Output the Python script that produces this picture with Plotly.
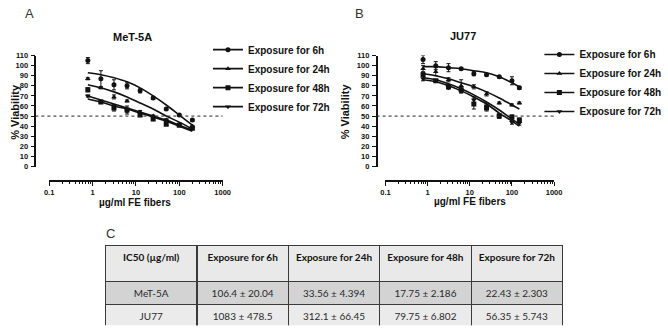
import plotly.graph_objects as go

W, H = 668, 334

# ---------------- data ----------------
series_names = ["Exposure for 6h", "Exposure for 24h", "Exposure for 48h", "Exposure for 72h"]
symbols = ["circle", "triangle-up", "square", "triangle-down"]

conc_met = [0.78, 1.56, 3.125, 6.25, 12.5, 25, 50, 100, 200]
met_6h = [105, 87, 81, 80, 75, 68, 57, 51, 46]
met_6h_err = [3, 8, 5, 3, 2, 1.5, 1, 1, 1]
met_24h = [87, 78, 69, 65, 54, 50, 46, 41, 40]
met_24h_err = [1, 1, 2, 1, 1.5, 1, 1, 1, 1]
met_48h = [76, 64, 58, 56, 51, 47, 42, 41, 38]
met_48h_err = [2, 1.5, 3, 4, 1.5, 1.5, 1, 1, 1]
met_72h = [70, 64, 60, 55, 52, 49, 46, 42, 39]
met_72h_err = [1, 1, 1, 1, 1, 1, 1, 1, 1]
met_fit_6h = [93, 91, 88, 84, 78, 70, 61, 51, 41]
met_fit_24h = [81, 78, 74, 69, 63, 57, 50, 44, 37]
met_fit_48h = [67, 64, 60, 57, 53, 49, 45, 40, 35]
met_fit_72h = [70, 66, 62, 58, 54, 50, 46, 41, 36]

conc_ju = [0.78, 1.56, 3.125, 6.25, 12.5, 25, 50, 100, 150]
ju_6h = [106, 100, 98, 97, 92, 91, 89, 85, 78]
ju_6h_err = [4, 4, 4, 1, 2, 1, 1, 4, 1.5]
ju_24h = [97, 94, 86, 80, 79, 72, 63, 61, 63]
ju_24h_err = [3, 4, 2, 6, 2, 2, 1, 1, 1]
ju_48h = [91, 85, 79, 76, 62, 58, 50, 49, 46]
ju_48h_err = [2, 1, 2, 3, 5, 3, 2, 2, 2]
ju_72h = [87, 85, 78, 75, 66, 60, 50, 44, 43]
ju_72h_err = [2, 1, 1, 2, 3, 3, 2, 2, 2]
ju_fit_6h = [99, 99, 98, 97, 95, 93, 89, 83, 79]
ju_fit_24h = [92, 90, 87, 83, 79, 74, 68, 61, 57]
ju_fit_48h = [88, 86, 82, 77, 71, 64, 56, 47, 42]
ju_fit_72h = [86, 84, 80, 75, 69, 62, 53, 45, 40]

threshold = 50

x_tickvals = [0.1, 1, 10, 100, 1000]
x_ticktext = ["0.1", "1", "10", "100", "1000"]
x_minor = [m * d for d in [0.1, 1, 10, 100] for m in range(2, 10)]

table_header = ["IC50 (µg/ml)", "Exposure for 6h", "Exposure for 24h",
                "Exposure for 48h", "Exposure for 72h"]
cell_lines = ["MeT-5A", "JU77"]
ic50_6h = ["106.4 ± 20.04", "1083 ± 478.5"]
ic50_24h = ["33.56 ± 4.394", "312.1 ± 66.45"]
ic50_48h = ["17.75 ± 2.186", "79.75 ± 6.802"]
ic50_72h = ["22.43 ± 2.303", "56.35 ± 5.743"]

# ---------------- helpers ----------------
def px(x):
    return x / W

def py(y):
    return 1 - y / H

def nobreak(s):
    return s.replace(" ", "\u00a0")

FONT = "Liberation Sans, Arial, sans-serif"
TFONT = "Lato, Open Sans, sans-serif"
BLACK = "#111111"

fig = go.Figure()

panels = [
    dict(xa="x", ya="y", legend="legend", conc=conc_met,
         vals=[met_6h, met_24h, met_48h, met_72h],
         errs=[met_6h_err, met_24h_err, met_48h_err, met_72h_err],
         fits=[met_fit_6h, met_fit_24h, met_fit_48h, met_fit_72h]),
    dict(xa="x2", ya="y2", legend="legend2", conc=conc_ju,
         vals=[ju_6h, ju_24h, ju_48h, ju_72h],
         errs=[ju_6h_err, ju_24h_err, ju_48h_err, ju_72h_err],
         fits=[ju_fit_6h, ju_fit_24h, ju_fit_48h, ju_fit_72h]),
]

for p in panels:
    for name, sym, v, e, f in zip(series_names, symbols, p["vals"], p["errs"], p["fits"]):
        fig.add_trace(go.Scatter(
            x=p["conc"], y=f, mode="lines", line=dict(color=BLACK, width=1.6, shape="spline"),
            xaxis=p["xa"], yaxis=p["ya"], showlegend=False, hoverinfo="skip"))
        fig.add_trace(go.Scatter(
            x=p["conc"], y=v, mode="markers",
            marker=dict(symbol=sym, size=5, color=BLACK),
            error_y=dict(type="data", array=e, color=BLACK, thickness=1, width=2),
            xaxis=p["xa"], yaxis=p["ya"], showlegend=False, name=name))
        # legend entry (line + marker, like the original)
        fig.add_trace(go.Scatter(
            x=[None], y=[None], mode="lines+markers", name=name,
            line=dict(color=BLACK, width=1.6),
            marker=dict(symbol=sym, size=5, color=BLACK),
            xaxis=p["xa"], yaxis=p["ya"], legend=p["legend"], showlegend=True))

# table
fig.add_trace(go.Table(
    domain=dict(x=[px(102.5), px(569.5)], y=[py(331), py(248)]),
    columnwidth=[1, 1, 1, 1, 1],
    header=dict(values=[nobreak(h) for h in table_header], height=36,
                fill=dict(color="#e9e9e9"),
                line=dict(color="#3a3a3a", width=1.2),
                align="center",
                font=dict(family=TFONT, size=10, color="#111111", weight="bold")),
    cells=dict(values=[cell_lines, ic50_6h, ic50_24h, ic50_48h, ic50_72h], height=23,
               fill=dict(color=[["#d3d3d3", "#ebebeb"]] * 5),
               line=dict(color="#3a3a3a", width=1.2),
               align="center",
               font=dict(family=TFONT, size=10, color="#2a2a2a")),
))

tickfont = dict(family=FONT, size=7.5, color=BLACK, weight="bold")

def xaxis_cfg(x0, x1, ypos):
    return dict(type="log", domain=[px(x0), px(x1)], range=[-1, 3], anchor="free", position=py(ypos),
                tickmode="array", tickvals=x_tickvals, ticktext=x_ticktext,
                ticks="outside", ticklen=4, tickwidth=1.3, tickcolor=BLACK,
                minor=dict(tickmode="array", tickvals=x_minor, ticks="outside", ticklen=2,
                           tickwidth=1, tickcolor=BLACK),
                showline=True, linecolor=BLACK, linewidth=1.6, showgrid=False, zeroline=False,
                tickfont=tickfont, ticklabelstandoff=0)

def yaxis_cfg(xpos):
    return dict(domain=[py(167), py(53)], range=[0, 110], anchor="free", position=px(xpos),
                dtick=10, tick0=0,
                ticks="outside", ticklen=4, tickwidth=1.3, tickcolor=BLACK,
                showline=True, linecolor=BLACK, linewidth=1.6, showgrid=False, zeroline=False,
                tickfont=tickfont, ticklabelstandoff=1)

legend_font = dict(family=FONT, size=10, color=BLACK, weight="bold")

fig.update_layout(
    width=W, height=H, autosize=False,
    margin=dict(l=0, r=0, t=0, b=0),
    paper_bgcolor="white", plot_bgcolor="white",
    font=dict(family=FONT, color=BLACK),
    xaxis=xaxis_cfg(45, 222, 182),
    yaxis=yaxis_cfg(31),
    xaxis2=xaxis_cfg(388, 560, 182),
    yaxis2=yaxis_cfg(379),
    legend=dict(x=px(207), y=py(32), xanchor="left", yanchor="top", font=legend_font,
                bgcolor="rgba(0,0,0,0)", borderwidth=0, tracegroupgap=0),
    legend2=dict(x=px(545), y=py(37), xanchor="left", yanchor="top", font=legend_font,
                 bgcolor="rgba(0,0,0,0)", borderwidth=0, tracegroupgap=0),
    showlegend=True,
)

# 50% dotted reference lines
fig.add_shape(type="line", xref="paper", yref="y", x0=px(31), x1=px(222), y0=threshold, y1=threshold,
              line=dict(color="#222222", width=1, dash="dot"))
fig.add_shape(type="line", xref="paper", yref="y2", x0=px(379), x1=px(560), y0=threshold, y1=threshold,
              line=dict(color="#222222", width=1, dash="dot"))

def ann(text, x, y, size, bold=True, color=BLACK, angle=0, family=FONT):
    fig.add_annotation(text=text, x=px(x), y=py(y), xref="paper", yref="paper",
                       xanchor="center", yanchor="middle", showarrow=False, textangle=angle,
                       font=dict(family=family, size=size, color=color,
                                 weight="bold" if bold else "normal"))

# panel letters
ann("A", 25, 10, 13, bold=False, color="#333333")
ann("B", 362, 10, 13, bold=False, color="#333333")
ann("C", 108, 236, 13, bold=False, color="#333333")
# titles
ann("MeT-5A", 130, 34, 11)
ann("JU77", 467, 33, 11)
# axis titles
ann("% Viability", 10, 111, 11, angle=-90)
ann("% Viability", 347, 110, 11, angle=-90)
ann("µg/ml FE fibers", 133, 204, 10)
ann("µg/ml FE fibers", 474, 203, 10)

fig.write_html("out.html", config={"displayModeBar": False},
               post_script="document.body.style.margin='0px';")
